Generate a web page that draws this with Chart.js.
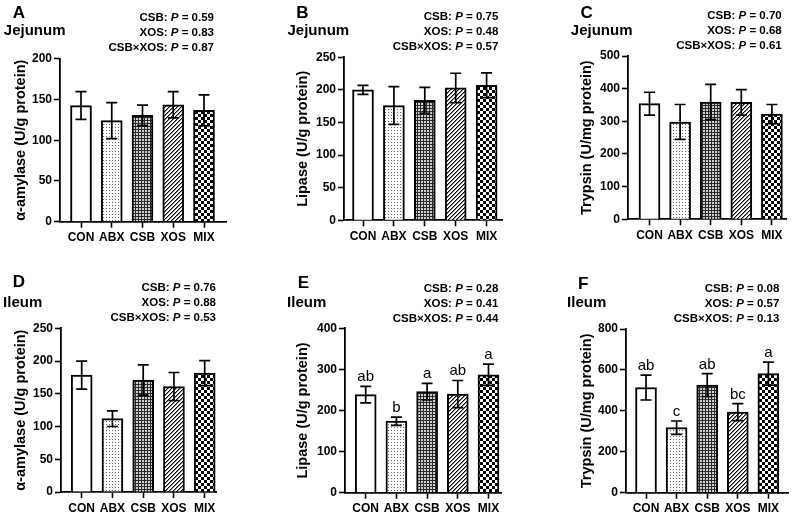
<!DOCTYPE html>
<html>
<head>
<meta charset="utf-8">
<script src="https://cdn.jsdelivr.net/npm/chart.js@4.4.1/dist/chart.umd.min.js"></script>
<style>
  html, body { margin: 0; padding: 0; background: #fff; }
  #wrap { position: relative; width: 796px; height: 515px; overflow: hidden; font-family: "Liberation Sans", Arial, sans-serif; }
  #wrap canvas { position: absolute; left: 0; top: 0; }
  .lbl { position: absolute; font-weight: bold; white-space: nowrap; color: #000; }
  .letter { font-size: 17px; line-height: 20px; transform: translateX(-50%); }
  .region { font-size: 15px; line-height: 18px; transform: translateX(-50%); }
  .pval { font-size: 11.5px; line-height: 15px; text-align: right; transform: translateX(-100%); }
</style>
</head>
<body>
<div id="wrap"></div>
<script>
const categories = ['CON', 'ABX', 'CSB', 'XOS', 'MIX']
const panelLetters = ['A', 'B', 'C', 'D', 'E', 'F']
const regions = ['Jejunum', 'Jejunum', 'Jejunum', 'Ileum', 'Ileum', 'Ileum']
const yTitles = ['α-amylase (U/g protein)', 'Lipase (U/g protein)', 'Trypsin (U/mg protein)',
                 'α-amylase (U/g protein)', 'Lipase (U/g protein)', 'Trypsin (U/mg protein)']

// Yeyuno
const jejAmylase = [142.5, 124, 130.5, 143.5, 136.5]
const jejAmylaseSd = [17, 22, 12.5, 16, 19]
const jejLipase = [200, 176, 184, 203, 207]
const jejLipaseSd = [7, 29, 20, 22.5, 19]
const jejTrypsin = [354, 298, 359, 358, 322]
const jejTrypsinSd = [35, 53.5, 54, 39, 29.5]
// Íleon
const ileAmylase = [178.5, 112, 171, 161, 181.5]
const ileAmylaseSd = [21.5, 12, 23, 21.5, 19]
const ileLipase = [238.5, 174, 246, 240, 287]
const ileLipaseSd = [20, 10, 20, 33, 26]
const ileLipaseLetters = ['ab', 'b', 'a', 'ab', 'a']
const ileTrypsin = [514, 318, 526, 394, 582]
const ileTrypsinSd = [61, 32.5, 56, 41.5, 56]
const ileTrypsinLetters = ['ab', 'c', 'ab', 'bc', 'a']

const yMaxes = [200, 250, 500, 250, 400, 800]
const ySteps = [50, 50, 100, 50, 100, 200]
const pCSB = ['0.59', '0.75', '0.70', '0.76', '0.28', '0.08']
const pXOS = ['0.83', '0.48', '0.68', '0.88', '0.41', '0.57']
const pInter = ['0.87', '0.57', '0.61', '0.53', '0.44', '0.13']

const means = [jejAmylase, jejLipase, jejTrypsin, ileAmylase, ileLipase, ileTrypsin]
const sds = [jejAmylaseSd, jejLipaseSd, jejTrypsinSd, ileAmylaseSd, ileLipaseSd, ileTrypsinSd]
const letters = [null, null, null, null, ileLipaseLetters, ileTrypsinLetters]

// posiciones en px: eje y, fin del eje x, tope, y=0, centro de CON, paso, centro del título
const frames = [
  { axisX: 60, axisEnd: 226.7, top: 58.7, bottom: 221.7, first: 81, step: 30.75, titleX: 20.7 },
  { axisX: 344, axisEnd: 502.3, top: 57.3, bottom: 220.3, first: 363, step: 30.9, titleX: 303.3 },
  { axisX: 628, axisEnd: 786.7, top: 56, bottom: 219.3, first: 649.5, step: 30.6, titleX: 587.3 },
  { axisX: 61, axisEnd: 216, top: 328.3, bottom: 492, first: 81.7, step: 30.75, titleX: 21 },
  { axisX: 345, axisEnd: 501.7, top: 328.3, bottom: 492.7, first: 365.7, step: 30.7, titleX: 303.3 },
  { axisX: 626, axisEnd: 788.3, top: 329, bottom: 492.7, first: 646, step: 30.6, titleX: 586.7 }
]
// letra del panel, región, borde derecho de los P y centro de la primera línea
const textPos = [
  { letter: [19, 13], region: [34.7, 30], pRight: 214, pTop: 17.5 },
  { letter: [302.3, 12.7], region: [318.3, 30], pRight: 498.3, pTop: 16.5 },
  { letter: [586.7, 12.7], region: [601.7, 30], pRight: 781.7, pTop: 15.5 },
  { letter: [19, 282], region: [22.7, 302], pRight: 216, pTop: 287.5 },
  { letter: [303.3, 283], region: [306.7, 302], pRight: 498.3, pTop: 288.7 },
  { letter: [583.3, 283.7], region: [586.7, 302], pRight: 779.3, pTop: 288.7 }
]

const FONT = '"Liberation Sans", Arial, sans-serif'
const X_H = 30
const TITLE_SIZE = 14.5

function tile(ctx, w, h, draw) {
  const c = document.createElement('canvas')
  c.width = w; c.height = h
  const g = c.getContext('2d')
  draw(g)
  return ctx.createPattern(c, 'repeat')
}

function makeFills(ctx) {
  const dots = tile(ctx, 3, 3, g => {
    g.fillStyle = '#fff'; g.fillRect(0, 0, 3, 3)
    g.fillStyle = '#666'; g.fillRect(1, 1, 1, 1)
  })
  const dense = tile(ctx, 3, 3, g => {
    g.fillStyle = '#2a2a2a'; g.fillRect(0, 0, 3, 3)
    g.fillStyle = '#cfcfcf'; g.fillRect(1, 1, 2, 2)
  })
  const diag = tile(ctx, 4, 4, g => {
    g.fillStyle = '#fff'; g.fillRect(0, 0, 4, 4)
    for (let i = 0; i < 4; i++) {
      g.fillStyle = '#000'; g.fillRect(3 - i, i, 1, 1)
      g.fillStyle = '#888'; g.fillRect((4 - i) % 4, i, 1, 1)
    }
  })
  const checker = tile(ctx, 6, 6, g => {
    g.fillStyle = '#fff'; g.fillRect(0, 0, 6, 6)
    g.fillStyle = '#000'; g.fillRect(0, 0, 3, 3); g.fillRect(3, 3, 3, 3)
  })
  return ['#fff', dots, dense, diag, checker]
}

function errorBarPlugin(m, sd, lett) {
  return {
    id: 'errorBars',
    afterDatasetsDraw(chart) {
      const { ctx, scales: { x, y } } = chart
      ctx.save()
      ctx.strokeStyle = '#000'
      ctx.lineWidth = 1.7
      ctx.fillStyle = '#000'
      ctx.font = '15px ' + FONT
      ctx.textAlign = 'center'
      ctx.textBaseline = 'alphabetic'
      m.forEach((v, i) => {
        const px = x.getPixelForValue(i)
        const top = y.getPixelForValue(v + sd[i])
        const bot = y.getPixelForValue(v - sd[i])
        ctx.beginPath()
        ctx.moveTo(px, top); ctx.lineTo(px, bot)
        ctx.moveTo(px - 5.5, top); ctx.lineTo(px + 5.5, top)
        ctx.moveTo(px - 5.5, bot); ctx.lineTo(px + 5.5, bot)
        ctx.stroke()
        if (lett) ctx.fillText(lett[i], px, top - 5)
      })
      ctx.restore()
    }
  }
}

const wrap = document.getElementById('wrap')

frames.forEach((f, k) => {
  const canvas = document.createElement('canvas')
  canvas.width = 796
  canvas.height = 515
  wrap.appendChild(canvas)
  const ctx = canvas.getContext('2d')

  const boxLeft = f.titleX - TITLE_SIZE * 1.2 / 2
  const last = f.first + 4 * f.step
  const xMin = (f.axisX - f.first) / f.step
  const xMax = 4 + (f.axisEnd - last) / f.step

  const axisGrid = { display: true, drawOnChartArea: false, drawTicks: true, tickLength: 6, tickWidth: 1.6, tickColor: '#000', offset: false }
  const axisBorder = { display: true, color: '#000', width: 1.8 }

  new Chart(ctx, {
    type: 'bar',
    data: {
      datasets: [{
        data: means[k].map((v, i) => ({ x: i, y: v })),
        backgroundColor: makeFills(ctx),
        borderColor: '#000',
        borderWidth: 2,
        barThickness: 21
      }]
    },
    options: {
      responsive: false,
      animation: false,
      events: [],
      layout: { padding: { left: boxLeft, right: 796 - f.axisEnd, top: f.top, bottom: 515 - f.bottom - X_H } },
      plugins: { legend: { display: false }, tooltip: { enabled: false } },
      scales: {
        x: {
          type: 'linear',
          min: xMin,
          max: xMax,
          offset: false,
          afterFit: s => { s.height = X_H },
          afterBuildTicks: s => { s.ticks = categories.map((c, i) => ({ value: i })) },
          grid: axisGrid,
          border: axisBorder,
          ticks: {
            autoSkip: false, maxRotation: 0, padding: 3, color: '#000',
            font: { family: FONT, size: 12, weight: 'bold' },
            callback: v => categories[v]
          }
        },
        y: {
          min: 0,
          max: yMaxes[k],
          afterFit: s => { s.width = f.axisX - boxLeft },
          grid: axisGrid,
          border: axisBorder,
          ticks: { stepSize: ySteps[k], padding: 2, color: '#000', font: { family: FONT, size: 12, weight: 'bold' } },
          title: { display: true, text: yTitles[k], color: '#000', padding: 0, font: { family: FONT, size: TITLE_SIZE, weight: 'bold' } }
        }
      }
    },
    plugins: [errorBarPlugin(means[k], sds[k], letters[k])]
  })

  // textos del panel
  const t = textPos[k]
  const letter = document.createElement('div')
  letter.className = 'lbl letter'
  letter.textContent = panelLetters[k]
  letter.style.left = t.letter[0] + 'px'
  letter.style.top = (t.letter[1] - 10) + 'px'
  wrap.appendChild(letter)

  const region = document.createElement('div')
  region.className = 'lbl region'
  region.textContent = regions[k]
  region.style.left = t.region[0] + 'px'
  region.style.top = (t.region[1] - 9) + 'px'
  wrap.appendChild(region)

  const pv = document.createElement('div')
  pv.className = 'lbl pval'
  pv.innerHTML = `CSB: <i>P</i> = ${pCSB[k]}<br>XOS: <i>P</i> = ${pXOS[k]}<br>CSB×XOS: <i>P</i> = ${pInter[k]}`
  pv.style.left = t.pRight + 'px'
  pv.style.top = (t.pTop - 7.5) + 'px'
  wrap.appendChild(pv)
})
</script>
</body>
</html>
